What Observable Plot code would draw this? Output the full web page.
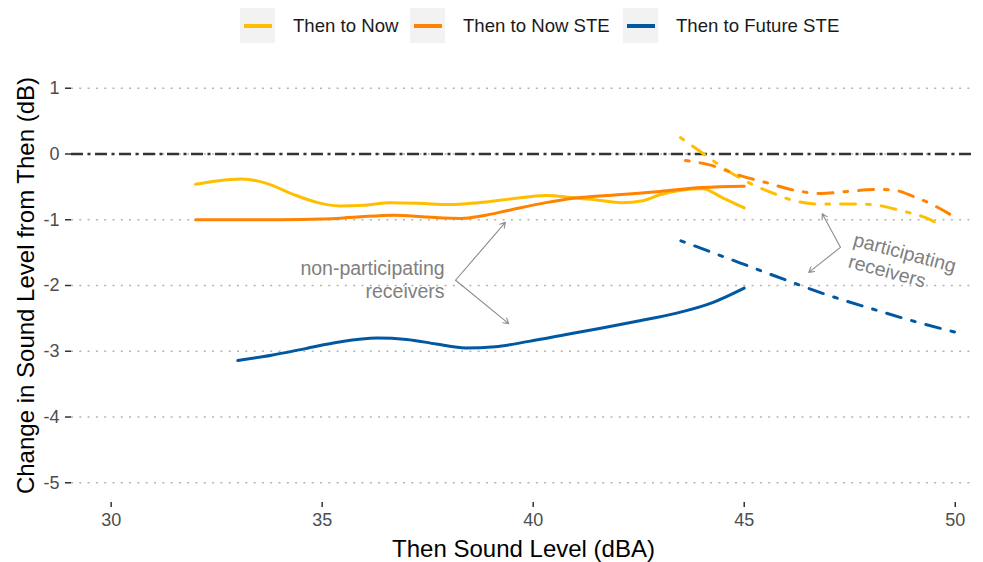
<!DOCTYPE html>
<html>
<head>
<meta charset="utf-8">
<script src="https://cdn.jsdelivr.net/npm/d3@7"></script>
<script src="https://cdn.jsdelivr.net/npm/@observablehq/plot@0.6"></script>
<style>
  body { margin: 0; background: #fff; font-family: "Liberation Sans", Arial, sans-serif; }
  #legend { height: 52px; position: relative; }
  .item { position: absolute; top: 8px; height: 35px; display: flex; align-items: center; }
  .key { width: 35px; height: 35px; background: #f2f2f2; position: relative; }
  .key span { position: absolute; left: 3.5px; top: 15.5px; width: 28px; height: 4px; }
  .lab { margin-left: 18px; font-size: 18.6px; color: #1a1a1a; white-space: nowrap; }
</style>
</head>
<body>
<div id="legend"></div>
<div id="chart"></div>
<script>
// ---- data ----
const series = ["Then to Now", "Then to Now STE", "Then to Future STE"];
const colors = ["#FFBF00", "#FF8200", "#0058A3"];
const xTicks = [30, 35, 40, 45, 50];
const yTicks = [-5, -4, -3, -2, -1, 0, 1];

// non-participating receivers (solid)
const nowNon = [[32.0,-0.46],[32.5,-0.41],[33.1,-0.38],[33.7,-0.45],[34.3,-0.61],[34.9,-0.74],[35.4,-0.79],[36.0,-0.78],[36.6,-0.74],[37.3,-0.75],[38.0,-0.77],[38.7,-0.74],[39.5,-0.68],[40.3,-0.63],[40.9,-0.66],[41.5,-0.70],[42.1,-0.74],[42.6,-0.71],[43.0,-0.62],[43.5,-0.55],[44.0,-0.53],[44.5,-0.67],[45.0,-0.82]];
const nowSteNon = [[32.0,-1.0],[33.0,-1.0],[34.0,-1.0],[35.0,-0.99],[35.8,-0.96],[36.7,-0.93],[37.5,-0.96],[38.3,-0.98],[38.8,-0.94],[39.4,-0.86],[40.3,-0.74],[41.0,-0.67],[42.0,-0.62],[43.0,-0.57],[44.0,-0.51],[45.0,-0.49]];
const futSteNon = [[33.0,-3.14],[33.8,-3.06],[34.6,-2.96],[35.4,-2.86],[36.3,-2.80],[37.0,-2.82],[37.7,-2.89],[38.4,-2.95],[39.1,-2.93],[39.9,-2.85],[40.75,-2.75],[41.6,-2.65],[42.4,-2.55],[43.4,-2.42],[44.25,-2.26],[45.0,-2.04]];

// participating receivers (dash-dot)
const nowPart = [[43.49,0.25],[44.04,0.0],[44.6,-0.25],[45.15,-0.45],[45.62,-0.58],[46.18,-0.71],[46.73,-0.76],[47.6,-0.76],[48.15,-0.78],[48.7,-0.86],[49.34,-0.98],[49.7,-1.10]];
const nowStePart = [[43.61,-0.10],[44.2,-0.17],[44.91,-0.33],[45.55,-0.44],[46.18,-0.55],[46.81,-0.60],[47.44,-0.57],[48.15,-0.54],[48.55,-0.55],[49.02,-0.65],[49.49,-0.78],[49.96,-0.95]];
const futStePart = [[43.5,-1.32],[44.0,-1.44],[45.0,-1.68],[46.0,-1.92],[47.0,-2.15],[48.0,-2.35],[49.0,-2.54],[50.0,-2.71]];

// annotations
const nonLabels = [{x:37.90, y:-1.75, text:"non-participating"}, {x:37.90, y:-2.10, text:"receivers"}];
const partLabels = [{x:47.60, y:-1.30, text:"participating"}, {x:47.48, y:-1.63, text:"receivers"}];
const arrows = [
  {x1:38.16, y1:-1.92, x2:39.34, y2:-1.04},
  {x1:38.16, y1:-1.92, x2:39.42, y2:-2.58},
  {x1:47.28, y1:-1.42, x2:46.85, y2:-0.91},
  {x1:47.28, y1:-1.42, x2:46.53, y2:-1.80}
];

const toRows = (arr, s) => arr.map(([x, y]) => ({x, y, series: s}));
const nonRows = [...toRows(nowNon, series[0]), ...toRows(nowSteNon, series[1]), ...toRows(futSteNon, series[2])];
const partRows = [...toRows(nowPart, series[0]), ...toRows(nowStePart, series[1]), ...toRows(futStePart, series[2])];

// ---- legend ----
const legend = document.getElementById("legend");
const lefts = [240, 410, 623];
series.forEach((s, i) => {
  const it = document.createElement("div");
  it.className = "item";
  it.style.left = lefts[i] + "px";
  it.innerHTML = `<div class="key"><span style="background:${colors[i]}"></span></div><div class="lab">${s}</div>`;
  legend.appendChild(it);
});

// ---- chart ----
const chart = Plot.plot({
  width: 983,
  height: 510,
  marginTop: 16,
  marginBottom: 60,
  marginLeft: 71,
  marginRight: 8,
  style: {fontFamily: "'Liberation Sans', Arial, sans-serif", background: "#fff", overflow: "visible"},
  x: {domain: [29.06, 50.48]},
  y: {domain: [-5.3, 1.3]},
  color: {domain: series, range: colors},
  marks: [
    Plot.ruleY(yTicks, {stroke: "#b3b3b3", strokeWidth: 1.6, strokeDasharray: "2 6.3"}),
    Plot.ruleY([0], {stroke: "#333", strokeWidth: 2.4, strokeDasharray: "12 4.5 3 4.5"}),
    Plot.axisX(xTicks, {tickSize: 5, tickPadding: 6, fontSize: 18, fill: "#4d4d4d", stroke: "#333", strokeWidth: 1.5, tickFormat: d => String(d), label: null}),
    Plot.axisY(yTicks, {tickSize: 6, tickPadding: 6, fontSize: 18, fill: "#4d4d4d", stroke: "#333", strokeWidth: 1.5, tickFormat: d => String(d), label: null}),
    Plot.line(nonRows, {x: "x", y: "y", z: "series", stroke: "series", strokeWidth: 3, curve: "monotone-x"}),
    Plot.line(partRows, {x: "x", y: "y", z: "series", stroke: "series", strokeWidth: 3, curve: "monotone-x", strokeDasharray: "3.7 11 15 11"}),
    Plot.arrow(arrows, {x1: "x1", y1: "y1", x2: "x2", y2: "y2", stroke: "#8c8c8c", strokeWidth: 1.1, headLength: 8}),
    Plot.text(nonLabels, {x: "x", y: "y", text: "text", textAnchor: "end", fill: "#808080", fontSize: 19.5}),
    Plot.text(partLabels, {x: "x", y: "y", text: "text", textAnchor: "start", rotate: 15, fill: "#808080", fontSize: 19.5}),
    Plot.text(["Then Sound Level (dBA)"], {text: d => d, frameAnchor: "bottom", textAnchor: "middle", lineAnchor: "middle", dy: 47, fontSize: 24, fill: "#000"}),
    Plot.text(["Change in Sound Level from Then (dB)"], {text: d => d, frameAnchor: "left", textAnchor: "middle", lineAnchor: "middle", dx: -45.5, rotate: -90, fontSize: 24, fill: "#000"})
  ]
});
document.getElementById("chart").appendChild(chart);
</script>
</body>
</html>
